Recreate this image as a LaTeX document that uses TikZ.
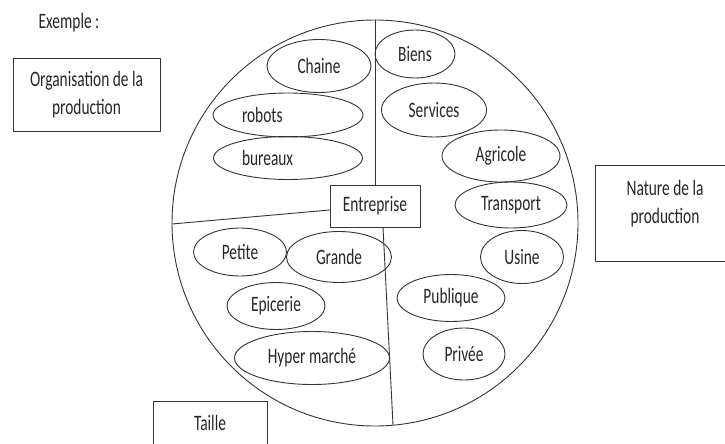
\documentclass[tikz,border=0pt]{standalone}
\usepackage{fontspec}
\setmainfont[FakeStretch=0.7]{Carlito}
\usetikzlibrary{shapes.geometric}

\begin{document}
\begin{tikzpicture}[line cap=round,line join=round,x=1pt,y=-1pt,
		font=\fontsize{22}{28}\selectfont,text=black!85,
		trait/.style={line width=0.9pt,draw=black!80},
		bulle/.style={trait,ellipse,inner sep=2pt},
		cadre/.style={trait,rectangle,inner sep=2pt}]
	\useasboundingbox (0,0) rectangle (725,444);
	\clip (0,0) rectangle (725,444);
	% le cercle et ses trois parts
	\coordinate (centre) at (375,223);
	\draw [trait] (centre) circle (203pt);
	\node[cadre,minimum width=90pt,minimum height=42pt] (entreprise) at (375,206) {Entreprise};
	\coordinate (haut) at (375,20);
	\coordinate (gauche) at (172,224);
	\coordinate (bas) at (393,425);
	\draw [trait] (entreprise.north) -- (haut);
	\draw [trait] ([yshift=-4pt]entreprise.west) -- (gauche);
	\draw [trait] ([xshift=8pt]entreprise.south) -- (bas);
	% organisation
	\node[bulle,minimum width=104pt,minimum height=53pt] (chaine) at (319,66) {Chaine};
	\node[bulle,minimum width=150pt,minimum height=44pt] (robots) at (288,115) {\makebox[92pt][l]{robots}};
	\node[bulle,minimum width=149pt,minimum height=43pt] (bureaux) at (288,158) {\makebox[92pt][l]{bureaux}};
	% nature
	\node[bulle,minimum width=80pt,minimum height=48pt] (biens) at (415,54) {Biens};
	\node[bulle,minimum width=105pt,minimum height=54pt] (services) at (434,110) {Services};
	\node[bulle,minimum width=118pt,minimum height=52pt] (agricole) at (501,156) {Agricole};
	\node[bulle,minimum width=112pt,minimum height=46pt] (transport) at (511,205) {Transport};
	\node[bulle,minimum width=83pt,minimum height=53pt] (usine) at (522,257) {Usine};
	\node[bulle,minimum width=108pt,minimum height=47pt] (publique) at (451,298) {Publique};
	\node[bulle,minimum width=82pt,minimum height=52pt] (privee) at (464,354) {Privée};
	% taille
	\node[bulle,minimum width=93pt,minimum height=48pt] (petite) at (240,252) {Petite};
	\node[bulle,minimum width=105pt,minimum height=51pt] (grande) at (339,257) {Grande};
	\node[bulle,minimum width=98pt,minimum height=47pt] (epicerie) at (276,306) {Epicerie};
	\node[bulle,minimum width=155pt,minimum height=53pt] (hyper) at (312,358) {Hyper marché};
	% titres
	\node (exemple) at (69,23) {Exemple :};
	\node[cadre,minimum width=147pt,minimum height=73pt,align=center] (organisation) at (86.5,94.5) {Organisation de la\\production};
	\node[cadre,minimum width=140pt,minimum height=96pt] (nature) at (665,213) {};
	\node[align=center] (natureTexte) at (665,204) {Nature de la\\production};
	\node[cadre,minimum width=114pt,text height=27pt,text depth=42pt,anchor=north] (taille) at (210,401) {Taille};
\end{tikzpicture}
\end{document}
